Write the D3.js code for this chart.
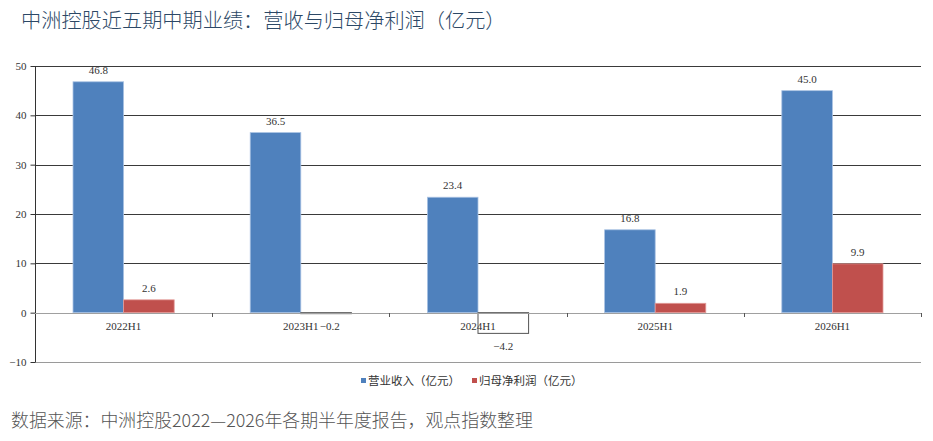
<!DOCTYPE html>
<html><head><meta charset="utf-8">
<script src="https://cdn.jsdelivr.net/npm/d3@7"></script>
<style>body{margin:0;background:#fff}svg{display:block}</style>
</head><body>
<svg id="c" width="933" height="441"></svg>
<script>
const categories = ["2022H1","2023H1","2024H1","2025H1","2026H1"];
const revenue = [46.8, 36.5, 23.4, 16.8, 45.0];
const netProfit = [2.6, -0.2, -4.2, 1.9, 9.9];
const seriesNames = ["营业收入（亿元）","归母净利润（亿元）"];
const yTicks = [-10, 0, 10, 20, 30, 40, 50];
const title = "中洲控股近五期中期业绩：营收与归母净利润（亿元）";
const source = "数据来源：中洲控股2022—2026年各期半年度报告，观点指数整理";

(function () {
const svg = d3.select("#c");
const pLeft = 35, pRight = 921, pTop = 66, pBottom = 362;
const numFont = "'Liberation Serif','DejaVu Serif',serif";
const cjkFont = "'Noto Sans CJK SC','Noto Sans',sans-serif";
const colors = ["#4f81bd", "#c0504d"];

const x = d3.scaleBand().domain(categories).range([pLeft, pRight]).padding(0);
const y = d3.scaleLinear().domain([-10, 50]).range([pBottom, pTop]);
const bw = x.bandwidth() * 0.2855;

svg.append("text").attr("x", 21).attr("y", 28).attr("font-family", cjkFont)
  .attr("font-size", 20.2).attr("font-weight", 300).attr("fill", "#2c4866").text(title);

// gridlines
svg.append("g").selectAll("line").data(yTicks.filter(d => d !== 0)).join("line")
  .attr("x1", pLeft).attr("x2", pRight)
  .attr("y1", d => Math.round(y(d)) + 0.5).attr("y2", d => Math.round(y(d)) + 0.5)
  .attr("stroke", d => d === -10 ? "#9a9a9a" : "#3a3a3a").attr("stroke-width", 1);

// y axis
const ya = svg.append("g").attr("transform", `translate(${pLeft + 0.5},0)`)
  .call(d3.axisLeft(y).tickValues(yTicks).tickSize(5).tickPadding(4).tickFormat(d3.format("d")));
ya.select(".domain").attr("stroke", "#333").attr("d", `M0,${y(50)}V${y(-10)}`);
ya.selectAll(".tick line").attr("stroke", "#333");
ya.selectAll(".tick text").attr("font-family", numFont).attr("font-size", 11).attr("fill", "#333");

const groups = categories.map((c, i) => ({c, v: [revenue[i], netProfit[i]]}));
const bars = [];
groups.forEach(g => g.v.forEach((v, s) => bars.push({c: g.c, v, s})));

svg.append("g").selectAll("rect").data(bars).join("rect")
  .attr("x", d => x(d.c) + x.bandwidth() / 2 + (d.s === 0 ? -bw : 0))
  .attr("width", bw)
  .attr("y", d => y(Math.max(0, d.v)))
  .attr("height", d => Math.max(1, Math.abs(y(d.v) - y(0))))
  .attr("fill", d => d.v < 0 ? "#ffffff" : colors[d.s])
  .attr("stroke", d => d.v < 0 ? "#555" : (d.s === 0 ? "#a9c2e3" : "#e29a98"))
  .attr("stroke-width", d => d.v < 0 ? 1 : 0.8);

// baseline
svg.append("line").attr("x1", pLeft).attr("x2", pRight)
  .attr("y1", Math.round(y(0)) + 0.5).attr("y2", Math.round(y(0)) + 0.5)
  .attr("stroke", "#a0a0a0");
// category ticks
const bounds = categories.slice(1).map(c => x(c)).concat([pRight]);
svg.append("g").selectAll("line").data(bounds).join("line")
  .attr("x1", d => Math.round(d) + 0.5).attr("x2", d => Math.round(d) + 0.5)
  .attr("y1", Math.round(y(0))).attr("y2", Math.round(y(0)) + 4).attr("stroke", "#555");

// category labels
svg.append("g").selectAll("text").data(categories).join("text")
  .attr("x", d => x(d) + x.bandwidth() / 2).attr("y", y(0) + 17)
  .attr("text-anchor", "middle").attr("font-family", numFont).attr("font-size", 11)
  .attr("fill", "#333").text(d => d);

// value labels
const small = d => d.v < 0 && d.v > -1;
svg.append("g").selectAll("text").data(bars).join("text")
  .attr("x", d => small(d) ? x(d.c) + x.bandwidth() / 2 + 19 : x(d.c) + x.bandwidth() / 2 + (d.s === 0 ? -bw / 2 : bw / 2))
  .attr("y", d => d.v >= 0 ? y(d.v) - 8 : (small(d) ? y(0) + 17 : y(d.v) + 17))
  .attr("text-anchor", d => small(d) ? "start" : "middle")
  .attr("font-family", numFont).attr("font-size", 11)
  .attr("fill", "#333").text(d => d3.format(".1f")(d.v));

// legend
const lg = svg.append("g").attr("transform", "translate(361,381)");
const items = [{n: seriesNames[0], c: colors[0], x: 0}, {n: seriesNames[1], c: colors[1], x: 111}];
items.forEach(it => {
  lg.append("rect").attr("x", it.x).attr("y", -3).attr("width", 5).attr("height", 5).attr("fill", it.c);
  lg.append("text").attr("x", it.x + 7).attr("y", 4).attr("font-family", cjkFont).attr("font-size", 11.5)
    .attr("fill", "#333").text(it.n);
});

svg.append("text").attr("x", 11).attr("y", 427).attr("font-family", cjkFont)
  .attr("font-size", 17.9).attr("font-weight", 300).attr("fill", "#555").text(source);
})();
</script>
</body></html>
